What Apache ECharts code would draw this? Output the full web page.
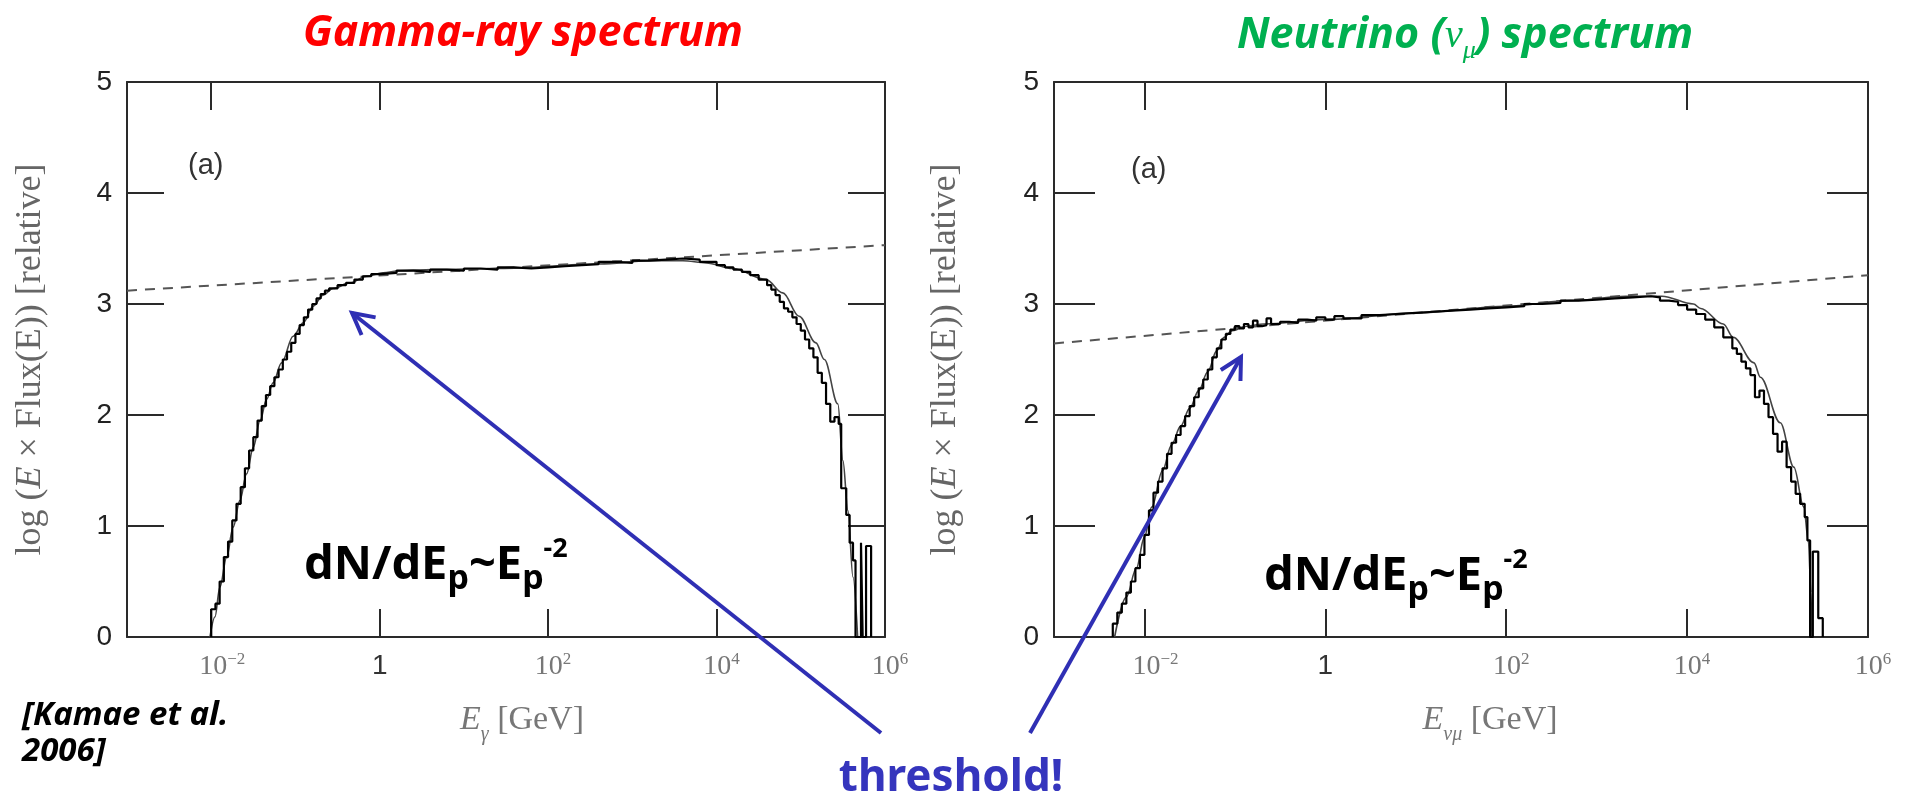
<!DOCTYPE html>
<html>
<head>
<meta charset="utf-8">
<title>Gamma-ray and neutrino spectra</title>
<script src="https://cdn.jsdelivr.net/npm/echarts@6/dist/echarts.min.js"></script>
<style>
    html, body { margin: 0; padding: 0; background: #fff; }
    #main { width: 1918px; height: 800px; }
</style>
</head>
<body>
<div id="main"></div>
<script>
'use strict';

// x values are log10(E / GeV), y values are log(E x Flux(E)) [relative]
var xTickValues = [-2, 0, 2, 4];
var xLabelValues = [-2, 0, 2, 4, 6];

// gamma-ray panel
var gammaPowerLaw = [[-3, 3.12], [6, 3.53]];
var gammaModel = [
    [-2.015, 0], [-1.956, 0.18], [-1.897, 0.45], [-1.817, 0.72], [-1.739, 0.99], [-1.66, 1.23],
    [-1.58, 1.47], [-1.50, 1.71], [-1.42, 1.95], [-1.343, 2.14], [-1.265, 2.29], [-1.165, 2.47],
    [-1.027, 2.71], [-0.908, 2.83], [-0.79, 2.98], [-0.671, 3.08], [-0.553, 3.14], [-0.355, 3.19],
    [-0.157, 3.25], [0.04, 3.28], [0.238, 3.30], [0.634, 3.31], [1.42, 3.32], [2.61, 3.36],
    [3.20, 3.39], [3.60, 3.39], [3.877, 3.37], [4.19, 3.32], [4.588, 3.22], [4.786, 3.10],
    [4.98, 2.89], [5.18, 2.65], [5.28, 2.50], [5.44, 2.10], [5.50, 1.59], [5.56, 1.14],
    [5.62, 0.54], [5.675, 0]
];
var gammaHist = [
    [-2.00, 0], [-2.00, 0.25], [-1.95, 0.30], [-1.90, 0.50], [-1.85, 0.72], [-1.80, 0.86],
    [-1.75, 1.05], [-1.70, 1.20], [-1.65, 1.35], [-1.60, 1.52], [-1.55, 1.68], [-1.50, 1.80],
    [-1.45, 1.95], [-1.40, 2.08], [-1.35, 2.18], [-1.30, 2.26], [-1.25, 2.34], [-1.20, 2.41],
    [-1.15, 2.50], [-1.10, 2.57], [-1.05, 2.65], [-1.00, 2.73], [-0.95, 2.81], [-0.90, 2.88],
    [-0.85, 2.95], [-0.80, 3.00], [-0.75, 3.05], [-0.70, 3.09], [-0.65, 3.12], [-0.60, 3.14],
    [-0.50, 3.17], [-0.40, 3.19], [-0.30, 3.22], [-0.20, 3.25], [-0.10, 3.27], [0.00, 3.28],
    [0.20, 3.30], [0.40, 3.29], [0.60, 3.31], [0.80, 3.30], [1.00, 3.32], [1.20, 3.31],
    [1.40, 3.33], [1.60, 3.32], [1.80, 3.33], [2.00, 3.34], [2.20, 3.35], [2.40, 3.36],
    [2.60, 3.38], [2.80, 3.37], [3.00, 3.39], [3.20, 3.40], [3.40, 3.41], [3.60, 3.40],
    [3.80, 3.38], [4.00, 3.35], [4.10, 3.33], [4.20, 3.31], [4.30, 3.29], [4.40, 3.26],
    [4.50, 3.22], [4.60, 3.17], [4.65, 3.13], [4.70, 3.08], [4.75, 3.02], [4.80, 2.96],
    [4.85, 2.93], [4.90, 2.88], [4.95, 2.82], [5.00, 2.76], [5.05, 2.68], [5.10, 2.60],
    [5.15, 2.52], [5.20, 2.38], [5.25, 2.29], [5.30, 2.10], [5.35, 1.94], [5.40, 1.98],
    [5.45, 1.92], [5.48, 1.34], [5.54, 1.10], [5.58, 0.85], [5.62, 0.69], [5.65, 0],
    [5.715, 0.85], [5.735, 0], [5.775, 0.82], [5.835, 0]
];

// neutrino (nu_mu) panel
var nuPowerLaw = [[-3, 2.645], [6, 3.26]];
var nuModel = [
    [-2.33, 0], [-2.20, 0.36], [-2.09, 0.62], [-2.00, 0.90], [-1.92, 1.17], [-1.80, 1.50],
    [-1.70, 1.73], [-1.60, 1.90], [-1.50, 2.06], [-1.40, 2.22], [-1.30, 2.39], [-1.20, 2.58],
    [-1.12, 2.70], [-1.03, 2.76], [-0.87, 2.80], [-0.68, 2.82], [0.0, 2.86], [1.02, 2.92],
    [2.0, 2.98], [2.71, 3.03], [3.32, 3.07], [3.72, 3.07], [4.07, 3.00], [4.15, 2.96],
    [4.40, 2.82], [4.51, 2.70], [4.74, 2.47], [4.81, 2.34], [5.03, 1.93], [5.18, 1.53],
    [5.29, 1.17], [5.34, 0.87], [5.37, 0.40], [5.38, 0]
];
var nuHist = [
    [-2.35, 0], [-2.35, 0.12], [-2.30, 0.22], [-2.25, 0.30], [-2.20, 0.40], [-2.15, 0.50],
    [-2.10, 0.62], [-2.05, 0.74], [-2.00, 0.92], [-1.95, 1.14], [-1.90, 1.30], [-1.85, 1.40],
    [-1.80, 1.52], [-1.75, 1.65], [-1.70, 1.75], [-1.65, 1.82], [-1.60, 1.90], [-1.55, 1.99],
    [-1.50, 2.08], [-1.45, 2.16], [-1.40, 2.24], [-1.35, 2.32], [-1.30, 2.41], [-1.25, 2.52],
    [-1.20, 2.60], [-1.15, 2.68], [-1.10, 2.73], [-1.05, 2.77], [-1.00, 2.80], [-0.95, 2.78],
    [-0.90, 2.82], [-0.85, 2.79], [-0.80, 2.85], [-0.75, 2.80], [-0.70, 2.81], [-0.65, 2.87],
    [-0.60, 2.82], [-0.50, 2.84], [-0.40, 2.83], [-0.30, 2.86], [-0.20, 2.85], [-0.10, 2.88],
    [0.00, 2.86], [0.10, 2.89], [0.20, 2.87], [0.40, 2.90], [0.60, 2.91], [0.80, 2.92],
    [1.00, 2.93], [1.20, 2.94], [1.40, 2.95], [1.60, 2.96], [1.80, 2.97], [2.00, 2.98],
    [2.20, 3.00], [2.40, 3.01], [2.60, 3.03], [2.80, 3.04], [3.00, 3.05], [3.20, 3.06],
    [3.40, 3.07], [3.60, 3.06], [3.70, 3.03], [3.80, 3.02], [3.90, 2.99], [4.00, 2.95],
    [4.10, 2.91], [4.20, 2.86], [4.30, 2.79], [4.40, 2.70], [4.50, 2.60], [4.55, 2.55],
    [4.60, 2.48], [4.65, 2.42], [4.70, 2.36], [4.75, 2.16], [4.80, 2.22], [4.85, 2.10],
    [4.90, 1.98], [4.95, 1.83], [5.00, 1.67], [5.05, 1.76], [5.10, 1.53], [5.15, 1.40],
    [5.20, 1.29], [5.25, 1.20], [5.30, 1.08], [5.33, 0.87], [5.36, 0], [5.39, 0.77],
    [5.45, 0.17], [5.50, 0]
];

var sansFont = "'Liberation Sans', Arial, sans-serif";
var serifFont = "'Liberation Serif', 'Times New Roman', serif";
var handFont = "'Comic Sans MS', 'Noto Sans', sans-serif";
var frameColor = '#2a2a2a';
var arrowBlue = '#2f2fb4';
var nuGreen = '#00b050';

function decadeLabel(v) {
    if (v === 0) {
        return '{one|1}';
    }
    if (v < 0) {
        return '{tenNeg|10}{sup|\u2212' + (-v) + '}';
    }
    return '{ten|10}{sup|' + v + '}';
}

var decadeRich = {
    one: { fontFamily: sansFont, fontSize: 28, color: '#333', lineHeight: 30 },
    ten: { fontFamily: serifFont, fontSize: 28, color: '#777', lineHeight: 30, verticalAlign: 'bottom', padding: [0, 0, 0, 10] },
    tenNeg: { fontFamily: serifFont, fontSize: 28, color: '#777', lineHeight: 30, verticalAlign: 'bottom', padding: [0, 0, 0, 22] },
    sup: { fontFamily: serifFont, fontSize: 17, color: '#777', lineHeight: 18, verticalAlign: 'top' }
};

var frameLine = { show: true, onZero: false, lineStyle: { color: frameColor, width: 2 } };

function xAxesFor(gridIndex, name, nameRich, namePadLeft) {
    return [{
        gridIndex: gridIndex,
        type: 'value',
        min: -3,
        max: 6,
        position: 'bottom',
        axisLine: frameLine,
        axisTick: { show: true, inside: true, length: 28, customValues: xTickValues, lineStyle: { color: frameColor, width: 2 } },
        axisLabel: { show: true, customValues: xLabelValues, formatter: decadeLabel, rich: decadeRich, margin: 14 },
        splitLine: { show: false },
        name: name,
        nameLocation: 'middle',
        nameGap: 66,
        nameTextStyle: { fontFamily: serifFont, fontSize: 34, color: '#777', padding: [0, 0, 0, namePadLeft], rich: nameRich }
    }, {
        gridIndex: gridIndex,
        type: 'value',
        min: -3,
        max: 6,
        position: 'top',
        axisLine: frameLine,
        axisTick: { show: true, inside: true, length: 28, customValues: xTickValues, lineStyle: { color: frameColor, width: 2 } },
        axisLabel: { show: false },
        splitLine: { show: false }
    }];
}

var yNameRich = {
    n: { fontFamily: serifFont, fontSize: 36, color: '#666' },
    it: { fontFamily: serifFont, fontSize: 36, color: '#666', fontStyle: 'italic' }
};

function yAxesFor(gridIndex, tickLen, nameGap) {
    return [{
        gridIndex: gridIndex,
        type: 'value',
        min: 0,
        max: 5,
        interval: 1,
        position: 'left',
        axisLine: frameLine,
        axisTick: { show: true, inside: true, length: tickLen, lineStyle: { color: frameColor, width: 2 } },
        axisLabel: { show: true, fontFamily: sansFont, fontSize: 28, color: '#222', margin: 15 },
        splitLine: { show: false },
        name: '{n|log (}{it|E}{n| \u00d7 Flux(E)) [relative]}',
        nameLocation: 'middle',
        nameRotate: 90,
        nameGap: nameGap,
        nameTextStyle: { rich: yNameRich }
    }, {
        gridIndex: gridIndex,
        type: 'value',
        min: 0,
        max: 5,
        interval: 1,
        position: 'right',
        axisLine: frameLine,
        axisTick: { show: true, inside: true, length: tickLen, lineStyle: { color: frameColor, width: 2 } },
        axisLabel: { show: false },
        splitLine: { show: false }
    }];
}

var xNameRich = {
    it: { fontFamily: serifFont, fontSize: 34, color: '#777', fontStyle: 'italic' },
    sub: { fontFamily: serifFont, fontSize: 20, color: '#777', fontStyle: 'italic', verticalAlign: 'bottom', lineHeight: 20, padding: [0, 0, -8, 0] },
    n: { fontFamily: serifFont, fontSize: 34, color: '#777' }
};

var gammaX = xAxesFor(0, '{it|E}{sub|\u03b3}{n| [GeV]}', xNameRich, 32);
var nuX = xAxesFor(1, '{it|E}{sub|\u03bd\u03bc}{n| [GeV]}', xNameRich, 58);
var gammaY = yAxesFor(0, 37, 78);
var nuY = yAxesFor(1, 41, 90);

function spectrumSeries(axisIndex, powerLaw, model, hist) {
    return [{
        type: 'line',
        xAxisIndex: axisIndex,
        yAxisIndex: axisIndex,
        data: powerLaw,
        symbol: 'none',
        silent: true,
        lineStyle: { color: '#555', width: 2, type: [10, 8] },
        z: 2
    }, {
        type: 'line',
        xAxisIndex: axisIndex,
        yAxisIndex: axisIndex,
        data: model,
        symbol: 'none',
        smooth: 0.35,
        smoothMonotone: 'x',
        silent: true,
        lineStyle: { color: '#444', width: 1.6 },
        z: 3
    }, {
        type: 'line',
        xAxisIndex: axisIndex,
        yAxisIndex: axisIndex,
        data: hist,
        symbol: 'none',
        step: 'end',
        silent: true,
        lineStyle: { color: '#000', width: 2.2 },
        z: 4
    }];
}

function arrowGraphic(tail, tip) {
    var ang = Math.atan2(tail[1] - tip[1], tail[0] - tip[0]);
    var spread = 28 * Math.PI / 180;
    var len = 24;
    var a1 = [tip[0] + len * Math.cos(ang - spread), tip[1] + len * Math.sin(ang - spread)];
    var a2 = [tip[0] + len * Math.cos(ang + spread), tip[1] + len * Math.sin(ang + spread)];
    return [{
        type: 'line',
        z: 100,
        shape: { x1: tail[0], y1: tail[1], x2: tip[0], y2: tip[1] },
        style: { stroke: arrowBlue, lineWidth: 4 }
    }, {
        type: 'polyline',
        z: 100,
        shape: { points: [a1, tip, a2] },
        style: { stroke: arrowBlue, lineWidth: 4, fill: null, lineJoin: 'miter' }
    }];
}

var powerLawRich = {
    m: { fontFamily: handFont, fontWeight: 'bold', fontSize: 47, lineHeight: 60, verticalAlign: 'middle', fill: '#000' },
    sub: { fontFamily: handFont, fontWeight: 'bold', fontSize: 34, lineHeight: 37, verticalAlign: 'bottom', fill: '#000' },
    sup: { fontFamily: handFont, fontWeight: 'bold', fontSize: 27, lineHeight: 50, verticalAlign: 'top', fill: '#000' }
};
var powerLawText = '{m|dN/dE}{sub|p}{m|~E}{sub|p}{sup|-2}';

var graphics = [{
    type: 'text',
    z: 100,
    x: 523,
    y: 34,
    style: { text: 'Gamma-ray spectrum', fill: '#ff0000', font: 'italic bold 43px ' + handFont, align: 'center', verticalAlign: 'middle' }
}, {
    type: 'text',
    z: 100,
    x: 1465,
    y: 36,
    style: {
        text: '{m|Neutrino (}{v|\u03bd}{s|\u03bc}{m|) spectrum}',
        align: 'center',
        verticalAlign: 'middle',
        fill: nuGreen,
        rich: {
            m: { fontFamily: handFont, fontStyle: 'italic', fontWeight: 'bold', fontSize: 43, fill: nuGreen, lineHeight: 56, verticalAlign: 'middle' },
            v: { fontFamily: serifFont, fontStyle: 'italic', fontSize: 40, fill: nuGreen, lineHeight: 56, verticalAlign: 'middle' },
            s: { fontFamily: serifFont, fontStyle: 'italic', fontSize: 26, fill: nuGreen, lineHeight: 28, verticalAlign: 'bottom' }
        }
    }
}, {
    type: 'text',
    z: 100,
    x: 188,
    y: 166,
    style: { text: '(a)', fill: '#333', font: '29px ' + sansFont, align: 'left', verticalAlign: 'middle' }
}, {
    type: 'text',
    z: 100,
    x: 1131,
    y: 170,
    style: { text: '(a)', fill: '#333', font: '29px ' + sansFont, align: 'left', verticalAlign: 'middle' }
}, {
    type: 'text',
    z: 100,
    x: 304,
    y: 536,
    style: { text: powerLawText, rich: powerLawRich, align: 'left', verticalAlign: 'top' }
}, {
    type: 'text',
    z: 100,
    x: 1264,
    y: 547,
    style: { text: powerLawText, rich: powerLawRich, align: 'left', verticalAlign: 'top' }
}, {
    type: 'text',
    z: 100,
    x: 22,
    y: 698,
    style: { text: '[Kamae et al.\n2006]', fill: '#000', font: 'italic bold 33px ' + handFont, lineHeight: 36, align: 'left', verticalAlign: 'top' }
}, {
    type: 'text',
    z: 100,
    x: 951,
    y: 778,
    style: { text: 'threshold!', fill: '#3535bd', font: 'bold 44px ' + handFont, align: 'center', verticalAlign: 'middle' }
}].concat(arrowGraphic([881, 733], [352, 313]), arrowGraphic([1030, 733], [1241, 357]));

var chart = echarts.init(document.getElementById('main'), null, { renderer: 'canvas' });
chart.setOption({
    animation: false,
    backgroundColor: '#fff',
    grid: [
        { left: 127, top: 82, width: 758, height: 555, outerBoundsMode: 'none' },
        { left: 1054, top: 82, width: 814, height: 555, outerBoundsMode: 'none' }
    ],
    xAxis: gammaX.concat(nuX),
    yAxis: gammaY.concat(nuY),
    series: spectrumSeries(0, gammaPowerLaw, gammaModel, gammaHist)
        .concat(spectrumSeries(2, nuPowerLaw, nuModel, nuHist)),
    graphic: graphics
});
</script>
</body>
</html>
